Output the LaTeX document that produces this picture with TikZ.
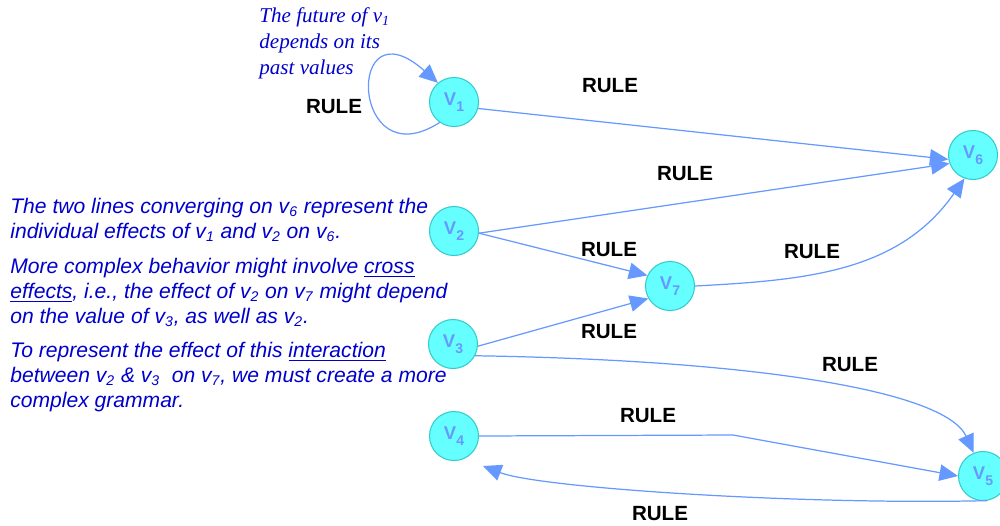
\documentclass[tikz,border=0pt]{standalone}
\usepackage{fontspec}
\setmainfont{Liberation Serif}
\setsansfont{Liberation Sans}
\usetikzlibrary{arrows.meta}

\definecolor{varfill}{RGB}{102,255,255}
\definecolor{vardraw}{RGB}{51,204,204}
\definecolor{varblue}{RGB}{102,153,255}
\definecolor{noteblue}{RGB}{0,0,204}

\newcommand{\varlabel}[1]{V\raisebox{-3.5pt}{\fontsize{8}{8}\selectfont #1}}

\begin{document}
\begin{tikzpicture}[x = 0.02cm, y = 0.02cm,
	var/.style = {circle, fill = varfill, draw = vardraw, line width = 0.6pt, minimum size = 0.98cm, inner sep = 0pt, text = varblue, font = \sffamily\bfseries\fontsize{10.5}{11}\selectfont},
	rulelabel/.style = {font = \sffamily\bfseries\fontsize{11.7}{12}\selectfont},
	note/.style = {anchor = north west, align = left, inner sep = 0pt, text = noteblue, font = \sffamily\itshape\fontsize{12}{14.2}\selectfont},
	pastnote/.style = {note, font = \rmfamily\itshape\fontsize{12}{14.7}\selectfont},
	conn/.style = {draw = varblue, line width = 0.7pt, -{Triangle[length = 0.37cm, width = 0.33cm]}}]
	\useasboundingbox (0, 0) rectangle (1000, -525);

	\node[var] (v1) at (454, -102) {\varlabel{1}};
	\node[var] (v6) at (973, -155) {\varlabel{6}};
	\node[var] (v2) at (454, -231) {\varlabel{2}};
	\node[var] (v7) at (670, -286) {\varlabel{7}};
	\node[var] (v3) at (453, -344) {\varlabel{3}};
	\node[var] (v4) at (454, -436) {\varlabel{4}};
	\node[var] (v5) at (983, -476) {\varlabel{5}};
	\coordinate (bend4) at (733, -435);
	\coordinate (back4) at (483, -466);

	\draw[conn] (v1.-125) .. controls (350, -180) and (345, 0) .. (v1.130);
	\draw[conn] (v1.-15) -- (v6.190);
	\draw[conn] (v2.-5) -- (v6.200);
	\draw[conn] (v2.-5) -- (v7.155);
	\draw[conn] (v3.-5) -- (v7.210);
	\draw[conn] (v7.east) to[out = 3, in = 235] (v6.250);
	\draw[conn] (v3.-28) .. controls (750, -360) and (945, -390) .. (v5.112);
	\draw[conn] (v4.east) -- (bend4) -- (v5.180);
	\draw[conn] (v5.-80) .. controls (800, -505) and (540, -488) .. (back4);

	\node[rulelabel] (r11) at (334, -107) {RULE};
	\node[rulelabel] (r16) at (610, -86) {RULE};
	\node[rulelabel] (r26) at (685, -174) {RULE};
	\node[rulelabel] (r27) at (609, -250) {RULE};
	\node[rulelabel] (r76) at (812, -252) {RULE};
	\node[rulelabel] (r37) at (609, -332) {RULE};
	\node[rulelabel] (r35) at (850, -365) {RULE};
	\node[rulelabel] (r45) at (648, -416) {RULE};
	\node[rulelabel] (r54) at (660, -514) {RULE};

	\node[pastnote] (past) at (259, -7.5) {The future of v\textsubscript{1}\\depends on its\\past values};
	\node[note] (conv) at (10, -198) {The two lines converging on v\textsubscript{6} represent the\\individual effects of v\textsubscript{1} and v\textsubscript{2} on v\textsubscript{6}.};
	\node[note] (cross) at (10, -258) {More complex behavior might involve \underline{cross}\\\underline{effects}, i.e., the effect of v\textsubscript{2} on v\textsubscript{7} might depend\\on the value of v\textsubscript{3}, as well as v\textsubscript{2}.};
	\node[note] (inter) at (10, -342) {To represent the effect of this \underline{interaction}\\between v\textsubscript{2} \& v\textsubscript{3}\ \ on v\textsubscript{7}, we must create a more\\complex grammar.};
\end{tikzpicture}
\end{document}
